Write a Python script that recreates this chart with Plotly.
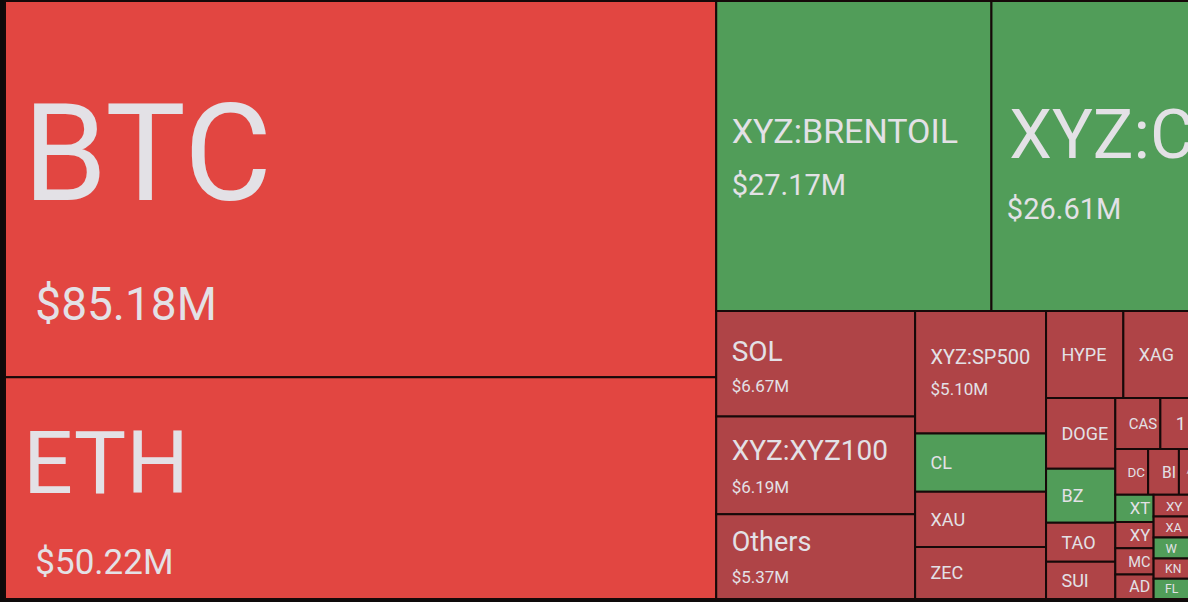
import plotly.graph_objects as go

# ---- data (liquidations, $M) ----
tickers = [
    "BTC", "ETH", "XYZ:BRENTOIL", "XYZ:CL", "SOL", "XYZ:XYZ100", "Others", "XYZ:SP500",
    "CL", "XAU", "ZEC", "HYPE", "XAG", "XRP", "DOGE", "BZ", "TAO", "SUI",
    "CAS", "1", "ENA", "LINK", "DC", "BI", "AVAX", "LTC", "BCH",
    "XT", "XY", "MC", "AD", "XY", "XA", "W", "KN", "FL",
    "PUMP", "WLFI", "ASTER", "XPL", "ARB", "OP", "APT", "NEAR", "TRX", "UNI",
]
liq_musd = [
    85.18, 50.22, 27.17, 26.61, 6.67, 6.19, 5.37, 5.10,
    2.43, 2.30, 2.17, 2.14, 2.00, 1.81, 1.56, 1.19, 0.86, 0.82,
    0.73, 0.63, 0.51, 0.49, 0.48, 0.45, 0.41, 0.40, 0.39,
    0.33, 0.32, 0.32, 0.30, 0.29, 0.28, 0.28, 0.27, 0.27,
    0.26, 0.25, 0.24, 0.23, 0.22, 0.21, 0.20, 0.19, 0.19, 0.18,
]
direction = [
    "down", "down", "up", "up", "down", "down", "down", "down",
    "up", "down", "down", "down", "down", "down", "down", "up", "down", "down",
    "down", "down", "down", "down", "down", "down", "down", "down", "down",
    "up", "down", "down", "down", "down", "down", "up", "down", "up",
    "down", "down", "down", "down", "down", "down", "down", "down", "down", "down",
]

# ---- styles ----
BRIGHT_RED = "#e24641"
DARK_RED = "#af4447"
GREEN = "#519d59"
TEXT_COLOR = "#e3e1e6"
NBSP = "\u00a0"

# label px, value px (None = hide), line base px, label pad px, value pad px,
# size of a trailing blank on the label line (raises the text box top, 0 = none)
text_styles = {
    "BTC": (135, 46, 92, 15, 27, 165),
    "ETH": (88, 35, 62, 15, 27, 108),
    "XYZ:BRENTOIL": (34, 29, 40, 12, 12, 0),
    "XYZ:CL": (68, 29, 47, 14, 13, 78),
    "SOL": (28, 17, 24, 12, 12, 32),
    "XYZ:XYZ100": (28, 17, 25, 12, 12, 0),
    "Others": (27, 17, 25, 12, 12, 0),
    "XYZ:SP500": (20, 17, 24, 12, 12, 0),
}
default_style = (18, None, 18, 12, 0, 0)


def pad(px):
    n = max(0, round(px / 2.48))
    return f"<span style='font-size:10px'>{NBSP * n}</span>" if n else ""


# explicit (hidden) root so that the tiles fill the whole area
ids, labels, parents, values = ["root"], [""], [""], [0]
texts, sizes, colors = [""], [18], ["#0e0a0a"]
for i, (name, val, d) in enumerate(zip(tickers, liq_musd, direction)):
    ids.append(f"n{i}")
    labels.append(name)
    parents.append("root")
    values.append(val)
    ls, vs, base, lp, vp, lift = text_styles.get(name, default_style)
    t = f"{pad(lp)}<span style='font-size:{ls}px'>{name}</span>"
    if lift:
        t += f"<span style='font-size:{lift}px'>{NBSP}</span>"
    if vs:
        t += f"<br>{pad(vp)}<span style='font-size:{vs}px'>${val:.2f}M</span>"
    texts.append(t)
    sizes.append(base)
    if d == "up":
        colors.append(GREEN)
    elif val > 40:
        colors.append(BRIGHT_RED)
    else:
        colors.append(DARK_RED)

fig = go.Figure(
    go.Treemap(
        ids=ids,
        labels=labels,
        parents=parents,
        values=values,
        branchvalues="remainder",
        text=texts,
        texttemplate="%{text}",
        textposition="middle left",
        textfont=dict(family="Roboto", size=sizes, color=TEXT_COLOR),
        marker=dict(
            colors=colors,
            line=dict(color="#160909", width=2),
            pad=dict(t=0, l=0, r=0, b=0),
        ),
        tiling=dict(packing="squarify", squarifyratio=1.618, pad=0),
        pathbar=dict(visible=False),
        sort=True,
    )
)
fig.update_layout(
    width=1261,
    height=602,
    margin=dict(l=5, r=0, t=1, b=3),
    paper_bgcolor="#0e0a0a",
    showlegend=False,
)
# the reference is a crop of a wider chart: show only the left 1188 px
crop_js = (
    "document.documentElement.style.margin='0';"
    "document.body.style.margin='0';"
    "document.body.style.overflow='hidden';"
    "var gd=document.getElementById('{plot_id}');"
    "gd.parentElement.style.width='1188px';"
    "gd.parentElement.style.height='602px';"
    "gd.parentElement.style.overflow='hidden';"
)
fig.write_html("out.html", post_script=crop_js)
